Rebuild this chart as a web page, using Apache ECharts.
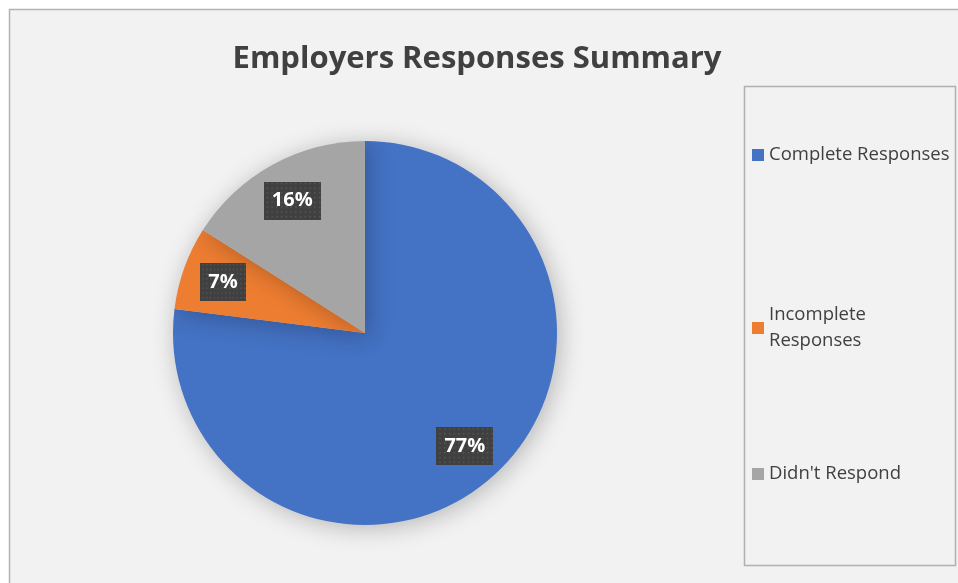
<!DOCTYPE html>
<html><head><meta charset="utf-8">
<script src="https://cdn.jsdelivr.net/npm/echarts@6/dist/echarts.min.js"></script>
<style>html,body{margin:0;padding:0;background:#fff}#c{width:958px;height:583px}</style>
</head><body><div id="c"></div>
<script>
const categories = ['Complete Responses', 'Incomplete Responses', "Didn't Respond"];
const percentages = [77, 7, 16];
const colors = ['#4472c4', '#ed7d31', '#a5a5a5'];
const titleText = 'Employers Responses Summary';

function dotted(w, h) {
  const c = document.createElement('canvas');
  c.width = w; c.height = h;
  const g = c.getContext('2d');
  g.fillStyle = '#404040'; g.fillRect(0, 0, w, h);
  g.fillStyle = '#5a5a5a';
  for (let y = 1; y < h; y += 5) for (let x = ((y / 5) % 2 ? 3 : 1); x < w; x += 5) g.fillRect(x, y, 1.5, 1.5);
  return c;
}
const bg = dotted(60, 40);

const data = categories.map((n, i) => ({ name: n, value: percentages[i], itemStyle: { color: colors[i] } }));
const chart = echarts.init(document.getElementById('c'));
const legendTops = [142, 302, 461];
chart.setOption({
  backgroundColor: '#fff',
  animation: false,
  graphic: [
    { type: 'rect', shape: { x: 9.5, y: 9.5, width: 960, height: 600 }, style: { fill: '#f2f2f2', stroke: '#b4b4b4', lineWidth: 1.5 }, z: -10 },
    { type: 'rect', shape: { x: 744.5, y: 86.5, width: 211, height: 479 }, style: { fill: '#f2f2f2', stroke: '#b0b0b0', lineWidth: 1.5 }, z: -9 }
  ],
  title: {
    text: titleText, left: 472, top: 39, textAlign: 'center',
    textStyle: { fontFamily: 'Open Sans', fontWeight: 'bold', fontSize: 31, color: '#404040' }
  },
  legend: categories.map((n, i) => ({
    data: [n], orient: 'vertical', left: 752, top: legendTops[i], padding: 0,
    itemWidth: 12, itemHeight: 12, icon: 'rect', itemGap: 5,
    textStyle: { fontFamily: 'Open Sans', fontSize: 18.5, color: '#404040', width: 182, overflow: 'break', lineHeight: 26 }
  })),
  series: [
    {
      type: 'pie', center: [365, 333], radius: 192, startAngle: 90, clockwise: true,
      data: data, label: { show: false }, labelLine: { show: false },
      itemStyle: { shadowBlur: 25, shadowColor: 'rgba(0,0,0,0.25)', shadowOffsetX: 3, shadowOffsetY: 3 },
      emphasis: { disabled: true }
    },
    {
      type: 'pie', center: [365, 333], radius: [104, 192], startAngle: 90, clockwise: true,
      data: categories.map((n, i) => ({ name: n, value: percentages[i] })),
      itemStyle: { color: 'rgba(0,0,0,0)' }, labelLine: { show: false }, silent: true,
      emphasis: { disabled: true },
      label: {
        show: true, position: 'inside', formatter: p => p.value + '%',
        fontFamily: 'Open Sans', fontWeight: 'bold', fontSize: 20, color: '#fff',
        padding: [9, 8], lineHeight: 20,
        backgroundColor: { image: bg },
        shadowBlur: 7, shadowColor: 'rgba(0,0,0,0.45)', shadowOffsetX: 3, shadowOffsetY: 3
      }
    }
  ]
});
</script></body></html>
